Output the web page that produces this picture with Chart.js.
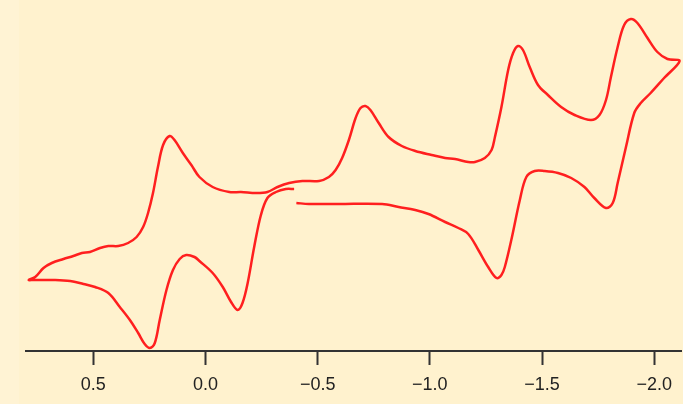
<!DOCTYPE html>
<html>
<head>
<meta charset="utf-8">
<title>Cyclic voltammogram</title>
<script src="https://cdn.jsdelivr.net/npm/chart.js@4/dist/chart.umd.min.js"></script>
<style>
  html, body { margin: 0; padding: 0; background: #FFF2CE; }
  #wrap { position: relative; width: 683px; height: 404px; background: #FFF2CE; overflow: hidden; }
  #strip { position: absolute; left: 0; top: 0; width: 19px; height: 404px; background: #FFF3D4; }
  canvas { position: absolute; left: 0; top: 0; }
</style>
</head>
<body>
<div id="wrap">
  <div id="strip"></div>
  <canvas id="cv" width="683" height="404"></canvas>
</div>
<script>
// Potential axis (V), drawn right-to-left as usual for voltammograms
const potentialTicks = [0.5, 0.0, -0.5, -1.0, -1.5, -2.0];
const potentialMin = -2.12;
const potentialMax = 0.8;

// Cathodic sweep from -0.40 V down to the switching potential
const sweep1Potential = [-0.405, -0.461, -0.491, -0.594, -0.787, -0.861, -0.935, -0.994, -1.068, -1.127,
  -1.171, -1.216, -1.260, -1.297, -1.319, -1.334, -1.363, -1.401, -1.430, -1.467,
  -1.512, -1.571, -1.630, -1.689, -1.733, -1.785, -1.815, -1.837, -1.874, -1.911,
  -1.940, -1.984, -2.044, -2.113];
const sweep1Current = [14.8, 14.7, 14.7, 14.7, 14.7, 14.4, 14.1, 13.7, 12.9, 12.3,
  11.7, 10.1, 8.4, 7.3, 7.6, 8.4, 11.1, 15.1, 17.4, 18.0,
  18.0, 17.8, 17.3, 16.4, 15.3, 14.3, 14.8, 16.8, 20.4, 23.8,
  24.8, 25.8, 27.3, 29.0];

// Anodic sweep back to the positive limit
const sweep2Potential = [-2.059, -2.014, -1.970, -1.925, -1.896, -1.866, -1.837, -1.807, -1.785, -1.756,
  -1.718, -1.645, -1.585, -1.526, -1.482, -1.445, -1.415, -1.393, -1.371, -1.349,
  -1.319, -1.290, -1.275, -1.245, -1.201, -1.171, -1.112, -1.068, -1.008, -0.935,
  -0.875, -0.816, -0.772, -0.735, -0.713, -0.691, -0.669, -0.639, -0.609, -0.580,
  -0.550, -0.506, -0.432, -0.373, -0.321, -0.276, -0.225, -0.158, -0.106, -0.032,
  0.027, 0.063, 0.101, 0.138, 0.160, 0.189, 0.212, 0.234, 0.256, 0.278,
  0.307, 0.345, 0.389, 0.433, 0.470, 0.515, 0.551, 0.589, 0.633, 0.685,
  0.722, 0.759, 0.788];
const sweep2Current = [29.2, 29.9, 31.3, 32.8, 33.2, 32.6, 30.4, 27.4, 25.1, 23.6,
  23.1, 23.6, 24.4, 25.6, 26.6, 28.4, 30.1, 30.5, 29.8, 28.1,
  24.4, 21.4, 20.1, 19.3, 18.9, 18.9, 19.2, 19.3, 19.6, 20.0,
  20.5, 21.4, 22.8, 24.1, 24.5, 24.3, 23.3, 21.1, 19.3, 18.1,
  17.4, 17.0, 17.0, 16.8, 16.4, 15.9, 15.8, 15.9, 15.9, 16.4,
  17.4, 18.6, 19.8, 21.1, 21.5, 20.6, 18.4, 15.8, 13.8, 12.4,
  11.4, 10.8, 10.5, 10.5, 10.3, 9.9, 9.8, 9.5, 9.2, 8.8,
  8.3, 7.4, 7.1];

// Final cathodic sweep back towards -0.40 V
const sweep3Potential = [0.766, 0.677, 0.603, 0.544, 0.492, 0.433, 0.382, 0.337, 0.300, 0.271,
  0.248, 0.226, 0.204, 0.174, 0.145, 0.115, 0.086, 0.049, 0.027, -0.032,
  -0.077, -0.114, -0.143, -0.165, -0.188, -0.217, -0.247, -0.276, -0.314, -0.358,
  -0.395];
const sweep3Current = [7.1, 7.1, 7.0, 6.7, 6.4, 5.8, 4.4, 3.1, 1.8, 0.7,
  0.3, 0.8, 3.1, 6.1, 8.1, 9.2, 9.6, 9.4, 9.0, 7.8,
  6.4, 4.9, 4.1, 4.8, 6.8, 10.4, 13.6, 15.3, 15.9, 16.2,
  16.2];

const currentMin = 0;
const currentMax = 35;

function toPoints(xs, ys) {
  return xs.map((x, i) => ({ x: x, y: ys[i] }));
}

const trace = [].concat(
  toPoints(sweep1Potential, sweep1Current),
  toPoints(sweep2Potential, sweep2Current),
  toPoints(sweep3Potential, sweep3Current)
);

function fmt(v) {
  const s = Math.abs(v).toFixed(1);
  return v < -1e-9 ? '\u2212' + s : s;
}

new Chart(document.getElementById('cv'), {
  type: 'scatter',
  data: {
    datasets: [{
      data: trace,
      showLine: true,
      borderColor: '#ff1f1f',
      borderWidth: 2.5,
      pointRadius: 0,
      pointHoverRadius: 0,
      tension: 0.35,
      fill: false
    }]
  },
  options: {
    responsive: false,
    animation: false,
    devicePixelRatio: 1,
    layout: { padding: { left: 26, right: 0, top: 1, bottom: 3 } },
    plugins: { legend: { display: false }, tooltip: { enabled: false } },
    scales: {
      x: {
        type: 'linear',
        reverse: true,
        min: potentialMin,
        max: potentialMax,
        afterBuildTicks: (axis) => { axis.ticks = potentialTicks.map(v => ({ value: v })); },
        // keep the axis band a fixed height so the plot bottom stays put
        afterFit: (axis) => { axis.height = 50; },
        border: { display: true, color: '#333333', width: 2 },
        grid: {
          drawOnChartArea: false,
          drawTicks: true,
          tickLength: 14,
          tickColor: '#333333',
          tickWidth: 2
        },
        ticks: {
          autoSkip: false,
          maxRotation: 0,
          padding: 11,
          color: '#222222',
          font: { family: '"Liberation Sans", Arial, sans-serif', size: 18, lineHeight: 1 },
          callback: (v) => fmt(v)
        }
      },
      y: {
        display: false,
        min: currentMin,
        max: currentMax
      }
    }
  }
});
</script>
</body>
</html>
